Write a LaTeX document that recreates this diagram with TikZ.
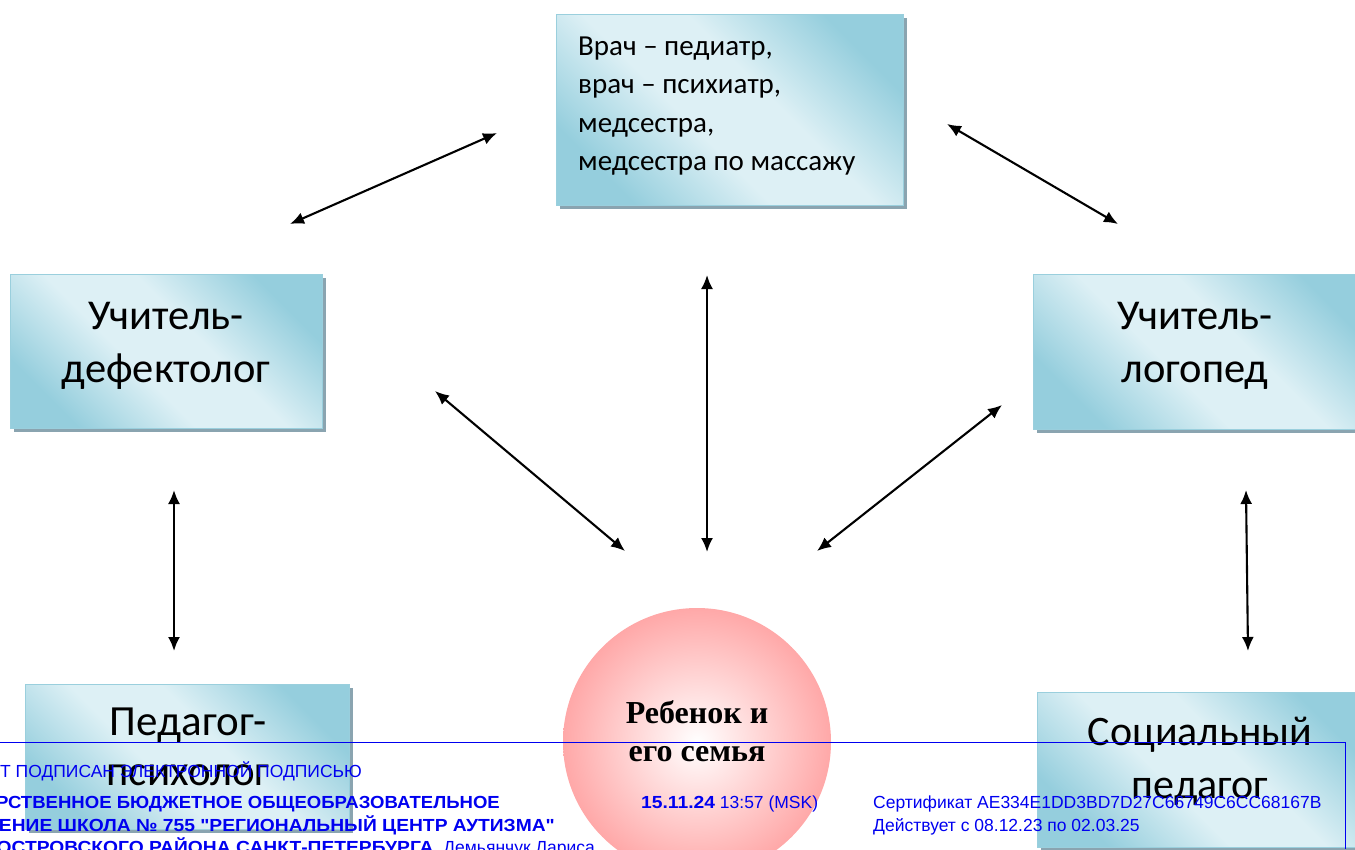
\documentclass[tikz,border=0pt]{standalone}
\usepackage{fontspec}
\setmainfont{Carlito}
\newfontfamily\serifbold{Liberation Serif}
\newfontfamily\sigfont{Liberation Sans}
\newfontfamily\sigboldf{Liberation Sans}[FakeStretch=1.06]
\newfontfamily\sigboldw{Liberation Sans}[FakeStretch=1.1]
\usetikzlibrary{arrows.meta,shadows}
\definecolor{bdark}{HTML}{95CEDD}
\definecolor{blight}{HTML}{DDF0F5}
\definecolor{bedge}{HTML}{9ACFDD}
\definecolor{shadowc}{HTML}{8AA4B0}
\definecolor{pinkc}{HTML}{FFA8A8}
\definecolor{sigblue}{HTML}{0000F0}
\pgfdeclarehorizontalshading{boxshade}{100bp}{color(0bp)=(bdark); color(25bp)=(bdark); color(43bp)=(blight); color(57bp)=(blight); color(75bp)=(bdark); color(100bp)=(bdark)}
\tikzset{
  boxst/.style={draw=bedge, line width=0.8pt, shading=boxshade, shading angle=45,
    drop shadow={shadow xshift=3.5pt, shadow yshift=-3.5pt, fill=shadowc, opacity=1}},
  boxtext/.style={align=center, inner sep=0pt, text=black},
  arr/.style={{Latex[length=14pt,width=12pt]}-{Latex[length=14pt,width=12pt]}, line width=2.1pt, black},
  sig/.style={text=sigblue, inner sep=0pt, font=\sigfont\fontsize{17.5}{20}\selectfont},
  sigb/.style={text=sigblue, inner sep=0pt, font=\sigboldf\bfseries\fontsize{17.5}{20}\selectfont},
  sigbw/.style={text=sigblue, inner sep=0pt, font=\sigboldw\bfseries\fontsize{17.5}{20}\selectfont},
}
\begin{document}
\begin{tikzpicture}[x=1pt,y=-1pt]
\useasboundingbox (0,0) rectangle (1355,849);
\clip (0,0) rectangle (1355,849);
% boxes
\node[boxst, minimum width=347pt, minimum height=191pt] (med) at (729.5,109.5) {};
\node[anchor=west, align=left, inner sep=0pt, font=\fontsize{29}{38.3}\selectfont] (medt) at (578,106)
  {Врач – педиатр,\\врач – психиатр,\\медсестра,\\медсестра по массажу};
\node[boxst, minimum width=312pt, minimum height=154pt] (def) at (166,351) {};
\node[boxtext, font=\fontsize{42.5}{53}\selectfont] (deft) at (166,346) {Учитель-\\дефектолог};
\node[boxst, minimum width=340pt, minimum height=155pt] (log) at (1203,351.5) {};
\node[boxtext, font=\fontsize{42.5}{53}\selectfont] (logt) at (1195,346) {Учитель-\\логопед};
\node[boxst, minimum width=324pt, minimum height=145pt] (psy) at (187,757) {};
\node[boxtext, font=\fontsize{43}{50}\selectfont] (psyt) at (188,747) {Педагог-\\психолог};
\node[boxst, minimum width=330pt, minimum height=155pt] (soc) at (1202,769.5) {};
\node[boxtext, font=\fontsize{42}{53}\selectfont] (soct) at (1200,761) {Социальный\\педагог};
% circle
\node[circle, minimum size=268pt, inner sep=0pt, shading=radial, inner color=white, outer color=pinkc] (child) at (697,742) {};
\node[boxtext, font=\serifbold\bfseries\fontsize{32}{38}\selectfont] (childt) at (697,731) {Ребенок и\\его семья};
% arrow end points
\coordinate (a1s) at (290,224); \coordinate (a1e) at (497,133);
\coordinate (a2s) at (947,124); \coordinate (a2e) at (1118,224);
\coordinate (a3s) at (707,275); \coordinate (a3e) at (707,552);
\coordinate (a4s) at (435,391); \coordinate (a4e) at (625,551);
\coordinate (a5s) at (1002,405); \coordinate (a5e) at (817,551);
\coordinate (a6s) at (174,490); \coordinate (a6e) at (174,651);
\coordinate (a7s) at (1246,490); \coordinate (a7e) at (1248,651);
\draw[arr] (a1s) -- (a1e);
\draw[arr] (a2s) -- (a2e);
\draw[arr] (a3s) -- (a3e);
\draw[arr] (a4s) -- (a4e);
\draw[arr] (a5s) -- (a5e);
\draw[arr] (a6s) -- (a6e);
\draw[arr] (a7s) -- (a7e);
% signature stamp
\coordinate (s1) at (0,742); \coordinate (s2) at (1345,742); \coordinate (s3) at (1345,849);
\draw[sigblue, line width=1pt] (s1) -- (s2) -- (s3);
\node[sig, anchor=base east] (t1) at (362,777) {ДОКУМЕНТ ПОДПИСАН ЭЛЕКТРОННОЙ ПОДПИСЬЮ};
\node[sigb, anchor=base east] (t2) at (500,808) {ГОСУДАРСТВЕННОЕ БЮДЖЕТНОЕ ОБЩЕОБРАЗОВАТЕЛЬНОЕ};
\node[sigbw, anchor=base east] (t3) at (555,831) {УЧРЕЖДЕНИЕ ШКОЛА № 755 "РЕГИОНАЛЬНЫЙ ЦЕНТР АУТИЗМА"};
\node[sig, anchor=base east] (t4) at (595,853) {{\sigboldw\bfseries ВАСИЛЕОСТРОВСКОГО РАЙОНА САНКТ-ПЕТЕРБУРГА}, Демьянчук Лариса};
\node[sig, anchor=base west] (t5) at (641,808) {{\sigboldw\bfseries 15.11.24} 13:57 (MSK)};
\node[sig, anchor=base west] (t6) at (873,808) {Сертификат AE334E1DD3BD7D27C66749C6CC68167B};
\node[sig, anchor=base west] (t7) at (873,831) {Действует с 08.12.23 по 02.03.25};
\end{tikzpicture}
\end{document}
